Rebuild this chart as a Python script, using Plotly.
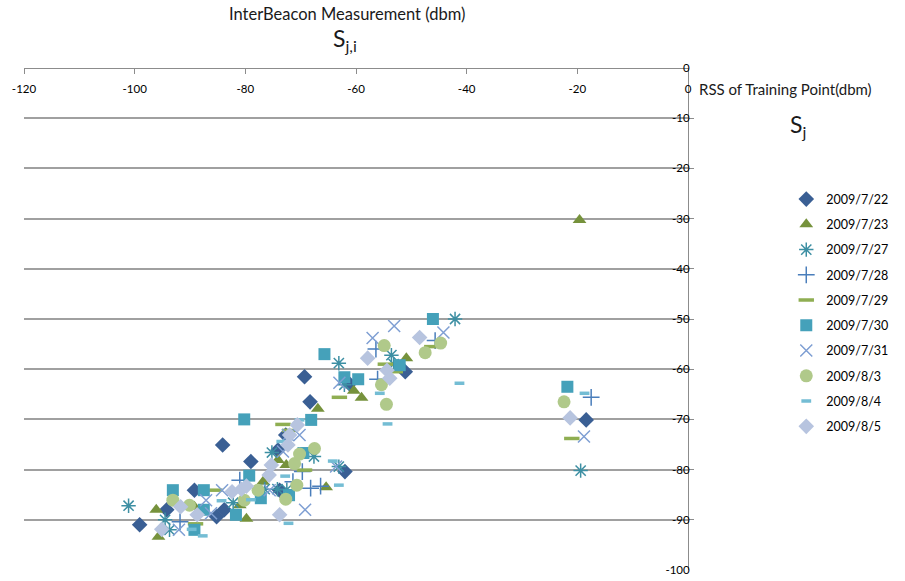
import plotly.graph_objects as go

# RSS of training point (x) vs inter-beacon measurement (y), one series per survey day
d0722_x = [-99.1, -94.2, -89.2, -85.2, -83.8, -84.1, -79.0, -74.1, -73.8, -72.7, -69.3, -68.3, -62.0, -61.2, -51.1, -18.4]
d0722_y = [-91.0, -88.0, -84.1, -89.4, -88.0, -75.1, -78.4, -76.1, -84.1, -73.1, -61.5, -66.5, -80.4, -62.9, -60.5, -70.1]

d0723_x = [-19.6, -96.1, -95.7, -89.2, -81.0, -79.8, -76.8, -74.1, -72.6, -66.9, -65.4, -60.4, -59.0, -50.9]
d0723_y = [-30.3, -88.0, -93.4, -87.4, -87.1, -89.8, -82.4, -78.1, -79.1, -67.9, -83.5, -64.3, -65.7, -57.8]

d0727_x = [-101.1, -94.5, -93.7, -82.2, -75.2, -76.5, -74.2, -72.5, -67.6, -63.1, -63.1, -62.1, -53.6, -53.2, -42.1, -19.4]
d0727_y = [-87.2, -90.0, -92.0, -86.6, -76.6, -83.9, -83.9, -84.0, -77.4, -79.4, -58.8, -63.1, -57.2, -59.0, -50.0, -80.2]

d0728_x = [-91.8, -81.0, -71.4, -69.7, -68.2, -66.4, -56.4, -56.1, -45.7, -17.5]
d0728_y = [-90.4, -82.1, -82.4, -80.4, -83.7, -83.3, -56.0, -62.0, -54.3, -65.6]

d0729_x = [-89.0, -85.5, -73.2, -72.0, -69.3, -63.0, -54.7, -52.9, -46.3, -21.0]
d0729_y = [-90.8, -84.1, -71.0, -72.2, -80.1, -65.6, -59.0, -60.5, -55.5, -73.8]

d0730_x = [-80.2, -93.1, -87.5, -87.5, -89.2, -81.7, -79.3, -77.2, -72.1, -69.5, -68.1, -65.7, -62.1, -59.6, -52.1, -46.1, -21.8]
d0730_y = [-70.0, -84.1, -84.1, -88.0, -92.0, -89.0, -81.2, -85.7, -85.1, -76.7, -70.1, -57.0, -61.6, -62.0, -59.2, -50.0, -63.5]

d0731_x = [-92.0, -87.1, -86.2, -84.2, -75.6, -73.2, -72.3, -70.2, -69.2, -63.6, -63.0, -57.0, -53.1, -44.2, -18.8]
d0731_y = [-92.0, -86.1, -88.7, -84.1, -84.1, -76.4, -73.1, -73.1, -88.0, -79.4, -62.7, -53.8, -51.4, -52.7, -73.4]

d0803_x = [-93.1, -90.1, -80.2, -77.7, -72.7, -71.1, -70.7, -70.2, -67.5, -55.4, -54.9, -54.5, -47.5, -44.7, -22.4]
d0803_y = [-86.1, -87.1, -86.1, -84.1, -85.9, -78.8, -83.1, -76.9, -75.8, -63.1, -55.3, -67.0, -56.7, -54.8, -66.5]

d0804_x = [-89.7, -87.7, -84.3, -79.0, -73.5, -72.8, -72.2, -70.2, -64.2, -63.1, -55.7, -54.3, -41.3, -18.7]
d0804_y = [-91.9, -93.2, -86.2, -86.0, -74.4, -81.3, -90.7, -70.1, -78.3, -83.1, -64.8, -70.9, -62.8, -64.8]

d0805_x = [-95.1, -91.7, -88.7, -82.4, -80.7, -79.8, -75.7, -75.3, -73.8, -72.3, -72.0, -70.6, -57.9, -54.4, -53.9, -48.5, -21.3]
d0805_y = [-91.9, -87.4, -89.0, -84.4, -83.9, -83.3, -81.1, -79.1, -89.0, -75.1, -73.1, -71.1, -57.8, -60.2, -61.8, -53.7, -69.7]

series_names = ["2009/7/22", "2009/7/23", "2009/7/27", "2009/7/28", "2009/7/29",
                "2009/7/30", "2009/7/31", "2009/8/3", "2009/8/4", "2009/8/5"]
series_x = [d0722_x, d0723_x, d0727_x, d0728_x, d0729_x, d0730_x, d0731_x, d0803_x, d0804_x, d0805_x]
series_y = [d0722_y, d0723_y, d0727_y, d0728_y, d0729_y, d0730_y, d0731_y, d0803_y, d0804_y, d0805_y]

# axis ticks, labelled with a plain hyphen minus
x_ticks = [-120, -100, -80, -60, -40, -20, 0]
y_ticks = [0, -10, -20, -30, -40, -50, -60, -70, -80, -90, -100]
x_ticktext = [str(v) for v in x_ticks]
y_ticktext = [str(v) for v in y_ticks]

# marker styling per series: (symbol, size, color, line width)
styles = [
    ("diamond", 12, "#3a5f94", 0),
    ("triangle-up", 12, "#76923c", 0),
    ("asterisk-open", 12, "#3d8fa3", 1.5),
    ("cross-thin-open", 12, "#4a7ebb", 1.5),
    ("line-ew-open", 11, "#8fae52", 3.5),
    ("square", 12, "#45a1ba", 0),
    ("x-thin-open", 12, "#7f9fd3", 1.5),
    ("circle", 13, "#b0c98a", 0),
    ("line-ew-open", 7, "#74bdd4", 3.5),
    ("diamond", 12, "#b7c4df", 0),
]

fig = go.Figure()
for name, xs, ys, (sym, size, col, lw) in zip(series_names, series_x, series_y, styles):
    marker = dict(symbol=sym, size=size, color=col)
    if lw:
        marker["line"] = dict(color=col, width=lw)
    else:
        marker["line"] = dict(width=0)
    fig.add_trace(go.Scatter(x=xs, y=ys, mode="markers", name=name,
                             legendgroup=name, marker=marker))

axis_col = "#8c8c8c"
tick_font = dict(size=11.5, family="Lato, Open Sans, sans-serif", color="#000000")
fig.update_layout(
    width=905, height=581,
    margin=dict(l=24, r=212, t=68, b=11),
    paper_bgcolor="white", plot_bgcolor="white",
    font=dict(family="Lato, Open Sans, sans-serif", color="#000000"),
    # x axis line runs along y = 0 (top edge), labels hang below it
    xaxis=dict(range=[-120, 0], side="bottom", anchor="free", position=1,
               tickmode="array", tickvals=x_ticks, ticktext=x_ticktext,
               showline=True, linecolor=axis_col, linewidth=1,
               ticks="outside", ticklen=5, tickcolor=axis_col, ticklabelstandoff=5,
               showgrid=False, zeroline=False, tickfont=tick_font, automargin=False),
    # y axis line runs along x = 0 (right edge), labels to its left
    yaxis=dict(range=[-100, 0], side="left", anchor="free", position=1,
               tickmode="array", tickvals=y_ticks, ticktext=y_ticktext,
               showline=True, linecolor=axis_col, linewidth=1,
               ticks="inside", ticklen=5, tickcolor=axis_col, ticklabelstandoff=-4,
               showgrid=True, gridcolor="#a0a0a0", gridwidth=1.5,
               zeroline=False, tickfont=tick_font, automargin=False),
    legend=dict(x=1.148, y=0.768, xanchor="left", yanchor="top",
                font=dict(size=12.5, family="Lato, Open Sans, sans-serif"),
                tracegroupgap=6, itemwidth=30, bgcolor="rgba(0,0,0,0)"),
    showlegend=True,
)

annotations = [
    dict(text="InterBeacon Measurement (dbm)", x=0.486, y=1.108, font=dict(size=16.5)),
    dict(text="S<sub>j,i</sub>", x=0.483, y=1.056, font=dict(size=23)),
    dict(text="RSS of Training Point(dbm)", x=1.013, y=0.958, xanchor="left", font=dict(size=15)),
    dict(text="S<sub>j</sub>", x=1.165, y=0.886, font=dict(size=23)),
]
for a in annotations:
    a.setdefault("xanchor", "center")
    fig.add_annotation(xref="paper", yref="paper", showarrow=False, yanchor="middle",
                       font_color="#1a1a1a", **a)

fig.write_html("out.html")
